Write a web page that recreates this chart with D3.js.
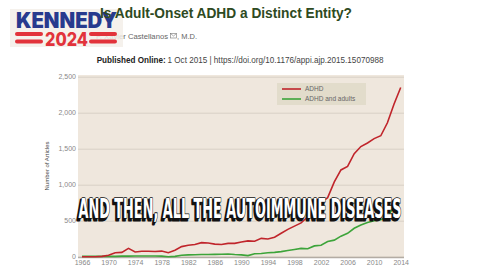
<!DOCTYPE html>
<html lang="en">
<head>
  <meta charset="UTF-8">
  <title>Is Adult-Onset ADHD a Distinct Entity?</title>
  <style>
    body { margin: 0; background: #fff; }
    svg { display: block; }
  </style>
</head>
<body>
<svg id="svg" width="480" height="270"></svg>
<script src="https://d3js.org/d3.v7.min.js"></script>
<script>
// data
const years = d3.range(1966, 2015)
const adhd = [0, 0, 0, 5, 20, 55, 60, 115, 65, 75, 75, 72, 78, 55, 90, 140, 160, 170, 195, 190,
  175, 170, 185, 185, 205, 220, 215, 255, 245, 270, 325, 380, 425, 470, 555, 650, 750, 820, 1040, 1205,
  1255, 1430, 1530, 1580, 1640, 1680, 1860, 2120, 2350]
const adults = [5, 5, 5, 5, 5, 5, 8, 8, 10, 10, 10, 10, 8, 0, 5, 20, 25, 28, 30, 30,
  32, 35, 38, 30, 25, 15, 40, 45, 55, 60, 70, 85, 100, 115, 110, 150, 160, 210, 230, 285,
  325, 395, 440, 475, 500, 515, 555, 695]
const yTicks = [0, 500, 1000, 1500, 2000, 2500]
const xTicks = d3.range(1966, 2015, 4)
const legendItems = [['ADHD', '#c0252b'], ['ADHD and adults', '#3da43a']]

const svg = d3.select('#svg')

// ---- header (author line sits under the logo)
svg.append('text').text('F. Xavier Castellanos')
  .attr('x', 96).attr('y', 39)
  .attr('textLength', 72).attr('lengthAdjust', 'spacingAndGlyphs')
  .style('font-family', '"Liberation Sans", Arial, sans-serif')
  .style('font-size', '7.5px').attr('fill', '#666')
svg.append('rect').attr('x', 170.5).attr('y', 33.5).attr('width', 6).attr('height', 4.5)
  .attr('fill', 'none').attr('stroke', '#777').attr('stroke-width', 0.6)
svg.append('path').attr('d', 'M170.5,33.5L173.5,36L176.5,33.5')
  .attr('fill', 'none').attr('stroke', '#777').attr('stroke-width', 0.6)
svg.append('text').text(', M.D.')
  .attr('x', 177).attr('y', 39)
  .style('font-family', '"Liberation Sans", Arial, sans-serif')
  .style('font-size', '7.5px').attr('fill', '#666')

// ---- kennedy logo
const logo = svg.append('g')
logo.append('rect').attr('x', 10).attr('y', 9).attr('width', 113).attr('height', 38)
  .attr('fill', '#f3efe9').attr('opacity', 0.85)
logo.append('text').text('KENNEDY')
  .attr('x', 16).attr('y', 27.7)
  .attr('textLength', 101).attr('lengthAdjust', 'spacingAndGlyphs')
  .style('font-family', 'Inter, "Liberation Sans", sans-serif').style('font-weight', 900)
  .style('font-size', '21px').attr('fill', '#283a8e')
;[[15, 28], [89, 28]].forEach(([x, w]) => {
  [32, 39.5].forEach(y => {
    logo.append('rect').attr('x', x).attr('y', y).attr('width', w).attr('height', 4)
      .attr('rx', 2).attr('fill', '#e2333b')
  })
})
logo.append('text').text('2024')
  .attr('x', 45).attr('y', 45.7)
  .attr('textLength', 43).attr('lengthAdjust', 'spacingAndGlyphs')
  .style('font-family', 'Inter, "Liberation Sans", sans-serif').style('font-weight', 800)
  .style('font-size', '19px').attr('fill', '#e2333b')

svg.append('text').text('Is Adult-Onset ADHD a Distinct Entity?')
  .attr('x', 100).attr('y', 18)
  .attr('textLength', 252).attr('lengthAdjust', 'spacingAndGlyphs')
  .style('font-family', '"Liberation Sans", Arial, sans-serif').style('font-weight', 'bold')
  .style('font-size', '14px').attr('fill', '#2e4a22')

svg.append('text').text('Published Online:')
  .attr('x', 96.7).attr('y', 62.7)
  .attr('textLength', 69).attr('lengthAdjust', 'spacingAndGlyphs')
  .style('font-family', '"Liberation Sans", Arial, sans-serif').style('font-weight', 'bold')
  .style('font-size', '8.3px').attr('fill', '#222')
svg.append('text').text('1 Oct 2015 | https://doi.org/10.1176/appi.ajp.2015.15070988')
  .attr('x', 167.5).attr('y', 62.7)
  .attr('textLength', 216).attr('lengthAdjust', 'spacingAndGlyphs')
  .style('font-family', '"Liberation Sans", Arial, sans-serif')
  .style('font-size', '8.3px').attr('fill', '#444')

// ---- chart
const plotL = 78, plotR = 404, plotT = 75, plotB = 258
const xScale = d3.scaleLinear().domain([1966, 2014]).range([82, 400.7])
const yScale = d3.scaleLinear().domain([0, 2500]).range([256.7, 76.7])

svg.append('rect').attr('x', plotL).attr('y', plotT).attr('width', plotR - plotL).attr('height', plotB - plotT)
  .attr('fill', '#efe7dd')

const yAxis = svg.append('g')
  .attr('transform', `translate(${plotL},0)`)
  .call(d3.axisLeft(yScale).tickValues(yTicks).tickFormat(d3.format(','))
    .tickSizeInner(-(plotR - plotL)).tickSizeOuter(0).tickPadding(2))
yAxis.select('.domain').remove()
yAxis.selectAll('.tick line').attr('stroke', '#d8d0c6').attr('stroke-width', 1)
yAxis.selectAll('.tick text').attr('fill', '#888')
  .style('font-family', '"Liberation Sans", Arial, sans-serif').style('font-size', '7px')

svg.append('line').attr('x1', plotL).attr('x2', plotR).attr('y1', 257.5).attr('y2', 257.5)
  .attr('stroke', '#b3aca4').attr('stroke-width', 1.5)

const xAxis = svg.append('g')
  .attr('transform', `translate(0,${259})`)
  .call(d3.axisBottom(xScale).tickValues(xTicks).tickFormat(d3.format('d')).tickSize(0).tickPadding(1))
xAxis.select('.domain').remove()
xAxis.selectAll('.tick text').attr('fill', '#888')
  .style('font-family', '"Liberation Sans", Arial, sans-serif').style('font-size', '7px')

svg.append('text').text('Number of Articles')
  .attr('transform', 'translate(49,166) rotate(-90)')
  .attr('text-anchor', 'middle')
  .style('font-family', '"Liberation Sans", Arial, sans-serif')
  .style('font-size', '6px').attr('fill', '#444')

const line = d3.line().x(d => xScale(d[0])).y(d => yScale(d[1]))
svg.append('path').datum(adults.map((v, i) => [years[i], v]))
  .attr('d', line).attr('fill', 'none').attr('stroke', legendItems[1][1]).attr('stroke-width', 1.6)
svg.append('path').datum(adhd.map((v, i) => [years[i], v]))
  .attr('d', line).attr('fill', 'none').attr('stroke', legendItems[0][1]).attr('stroke-width', 1.6)

// legend
const legend = svg.append('g')
legend.append('rect').attr('x', 277).attr('y', 83).attr('width', 89).attr('height', 22).attr('fill', '#e2dccb')
legendItems.forEach(([label, color], i) => {
  const y = 89 + i * 10
  legend.append('line').attr('x1', 282).attr('x2', 301).attr('y1', y).attr('y2', y)
    .attr('stroke', color).attr('stroke-width', 1.6)
  legend.append('text').text(label).attr('x', 305).attr('y', y + 2.3)
    .style('font-family', '"Liberation Sans", Arial, sans-serif')
    .style('font-size', '6.5px').attr('fill', '#666')
})

// ---- caption
const caption = 'AND THEN, ALL THE AUTOIMMUNE DISEASES'
svg.append('text').text(caption)
  .attr('x', 77).attr('y', 219.5)
  .attr('textLength', 323).attr('lengthAdjust', 'spacingAndGlyphs')
  .style('font-family', '"DejaVu Sans Condensed", "DejaVu Sans", sans-serif').style('font-weight', 'bold')
  .style('font-size', '27px').attr('fill', '#111').attr('stroke', '#111').attr('stroke-width', 3)
  .attr('stroke-linejoin', 'round')
svg.append('text').text(caption)
  .attr('x', 78.5).attr('y', 218)
  .attr('textLength', 323).attr('lengthAdjust', 'spacingAndGlyphs')
  .style('font-family', '"DejaVu Sans Condensed", "DejaVu Sans", sans-serif').style('font-weight', 'bold')
  .style('font-size', '27px').attr('fill', '#fff').attr('stroke', '#111').attr('stroke-width', 1.6)
  .attr('stroke-linejoin', 'round').style('paint-order', 'stroke')
</script>
</body>
</html>
